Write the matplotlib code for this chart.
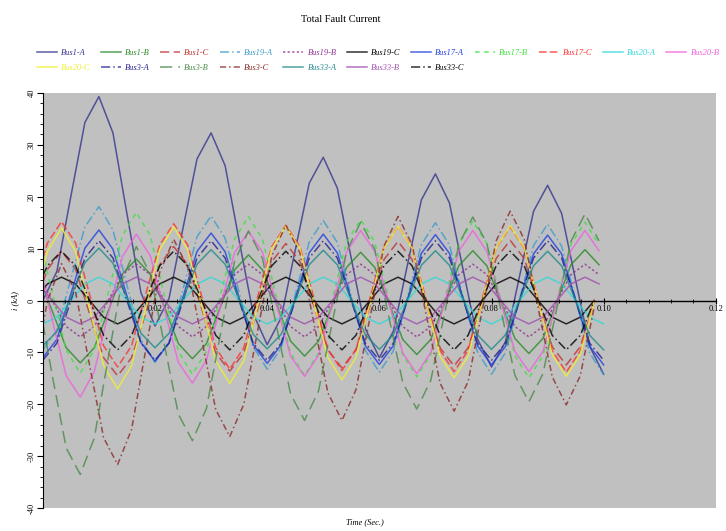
import matplotlib
matplotlib.use("Agg")
import matplotlib.pyplot as plt
from matplotlib.ticker import MultipleLocator, FixedLocator

plt.rcParams['font.family'] = ['Liberation Serif', 'DejaVu Serif']
plt.rcParams['axes.unicode_minus'] = False

# sample times in ms (each phase group read at its own peaks / troughs)
t_a = [0, 2.5, 5, 7.5, 10, 12.5, 15, 17.5, 20, 22.5, 25, 27.5, 30, 32.5, 35, 37.5, 40,
       42.5, 45, 47.5, 50, 52.5, 55, 57.5, 60, 62.5, 65, 67.5, 70, 72.5, 75, 77.5, 80,
       82.5, 85, 87.5, 90, 92.5, 95, 97.5, 100]
t_b = [0, 1.67, 4.17, 6.67, 9.17, 11.67, 14.17, 16.67, 19.17, 21.67, 24.17, 26.67, 29.17,
       31.67, 34.17, 36.67, 39.17, 41.67, 44.17, 46.67, 49.17, 51.67, 54.17, 56.67, 59.17,
       61.67, 64.17, 66.67, 69.17, 71.67, 74.17, 76.67, 79.17, 81.67, 84.17, 86.67, 89.17,
       91.67, 94.17, 96.67, 99.17]
t_c = [0, 0.83, 3.33, 5.83, 8.33, 10.83, 13.33, 15.83, 18.33, 20.83, 23.33, 25.83, 28.33,
       30.83, 33.33, 35.83, 38.33, 40.83, 43.33, 45.83, 48.33, 50.83, 53.33, 55.83, 58.33,
       60.83, 63.33, 65.83, 68.33, 70.83, 73.33, 75.83, 78.33, 80.83, 83.33, 85.83, 88.33,
       90.83, 93.33, 95.83, 98.33]

# phase A currents (kA)
bus1_a = [0.0, 5.6, 20.1, 34.3, 39.3, 32.3, 16.7, 1.5, -4.9, 0.4, 14.0, 27.3, 32.3, 26.0,
          11.6, -2.5, -8.5, -3.3, 9.7, 22.6, 27.6, 21.7, 8.1, -5.4, -11.0, -5.9, 6.8, 19.4,
          24.4, 18.8, 5.6, -7.4, -12.8, -7.9, 4.7, 17.2, 22.2, 16.8, 3.9, -8.8, -14.2]
bus19_a = [-9.5, -5.7, 4.2, 14.2, 18.1, 13.6, 3.0, -7.5, -11.9, -7.9, 2.2, 12.3, 16.3, 12.0,
           1.6, -8.9, -13.2, -9.1, 1.1, 11.3, 15.4, 11.2, 0.8, -9.6, -13.8, -9.7, 0.6, 10.8,
           15.0, 10.7, 0.4, -9.9, -14.2, -10.0, 0.3, 10.6, 14.7, 10.5, 0.2, -10.1, -14.3]
bus17_a = [-11.0, -7.5, 1.3, 10.1, 13.6, 9.9, 0.9, -8.1, -11.7, -8.2, 0.7, 9.5, 13.0, 9.4,
           0.5, -8.5, -12.1, -8.5, 0.3, 9.2, 12.8, 9.2, 0.3, -8.7, -12.3, -8.7, 0.2, 9.1,
           12.7, 9.1, 0.2, -8.7, -12.4, -8.8, 0.1, 9.0, 12.6, 9.0, 0.1, -8.8, -12.4]
bus20_a = [-4.5, -3.2, 0.0, 3.2, 4.5, 3.2, 0.0, -3.2, -4.5, -3.2, 0.0, 3.2, 4.5, 3.2, 0.0,
           -3.2, -4.5, -3.2, 0.0, 3.2, 4.5, 3.2, 0.0, -3.2, -4.5, -3.2, 0.0, 3.2, 4.5, 3.2,
           0.0, -3.2, -4.5, -3.2, 0.0, 3.2, 4.5, 3.2, 0.0, -3.2, -4.5]
bus3_a = [-11.5, -8.2, 0.0, 8.2, 11.5, 8.2, 0.0, -8.2, -11.5, -8.2, 0.0, 8.2, 11.5, 8.2, 0.0,
          -8.2, -11.5, -8.2, 0.0, 8.2, 11.5, 8.2, 0.0, -8.2, -11.5, -8.2, 0.0, 8.2, 11.5, 8.2,
          0.0, -8.2, -11.5, -8.2, 0.0, 8.2, 11.5, 8.2, 0.0, -8.2, -11.5]
bus33_a = [-8.7, -6.0, 0.7, 7.3, 10.1, 7.2, 0.5, -6.3, -9.1, -6.3, 0.4, 7.0, 9.8, 7.0, 0.3,
           -6.5, -9.3, -6.5, 0.2, 6.9, 9.7, 6.9, 0.1, -6.6, -9.4, -6.6, 0.1, 6.8, 9.6, 6.8,
           0.1, -6.6, -9.4, -6.6, 0.0, 6.7, 9.5, 6.7, 0.0, -6.7, -9.5]

# phase B currents (kA)
bus1_b = [2.5, -2.0, -9.1, -12.0, -9.1, -2.0, 5.1, 8.0, 5.1, -1.2, -8.3, -11.2, -8.3, -1.2,
          5.9, 8.8, 5.9, -0.7, -7.8, -10.7, -7.8, -0.7, 6.4, 9.3, 6.4, -0.4, -7.5, -10.4,
          -7.5, -0.4, 6.7, 9.6, 6.7, -0.2, -7.3, -10.2, -7.3, -0.2, 6.9, 9.8, 6.9]
bus19_b = [3.5, 0.0, -5.0, -7.0, -5.0, 0.0, 5.0, 7.0, 5.0, 0.0, -5.0, -7.0, -5.0, 0.0, 5.0,
           7.0, 5.0, 0.0, -5.0, -7.0, -5.0, 0.0, 5.0, 7.0, 5.0, 0.0, -5.0, -7.0, -5.0, 0.0,
           5.0, 7.0, 5.0, 0.0, -5.0, -7.0, -5.0, 0.0, 5.0, 7.0, 5.0]
bus17_b = [9.3, 1.5, -9.5, -14.0, -9.5, 1.5, 12.5, 17.0, 12.5, 1.0, -9.8, -14.2, -9.8, 1.0,
           11.8, 16.2, 11.8, 0.6, -10.1, -14.4, -10.1, 0.6, 11.3, 15.6, 11.3, 0.3, -10.4,
           -14.7, -10.4, 0.3, 11.0, 15.3, 11.0, 0.1, -10.6, -14.9, -10.6, 0.1, 10.8, 15.1, 10.8]
bus20_b = [4.0, -3.7, -14.5, -18.6, -13.7, -2.5, 8.4, 12.8, 8.6, -1.7, -11.9, -15.9, -11.5,
           -1.1, 9.2, 13.3, 9.3, -0.8, -10.7, -14.6, -10.5, -0.5, 9.4, 13.5, 9.5, -0.3, -10.1,
           -14.1, -10.0, -0.2, 9.5, 13.5, 9.5, -0.2, -9.8, -13.7, -9.8, -0.1, 9.6, 13.5, 9.6]
bus3_b = [-4.3, -14.4, -28.4, -33.5, -26.5, -11.0, 4.1, 10.4, 5.1, -8.5, -21.9, -27.0, -20.8,
          -6.5, 7.5, 13.4, 8.1, -5.0, -18.0, -23.1, -17.4, -3.9, 9.5, 15.1, 9.9, -3.0, -15.8,
          -20.9, -15.4, -2.3, 10.8, 16.1, 11.0, -1.8, -14.4, -19.5, -14.1, -1.4, 11.4, 16.7, 11.5]
bus33_b = [2.2, 0.0, -3.2, -4.5, -3.2, 0.0, 3.2, 4.5, 3.2, 0.0, -3.2, -4.5, -3.2, 0.0, 3.2,
           4.5, 3.2, 0.0, -3.2, -4.5, -3.2, 0.0, 3.2, 4.5, 3.2, 0.0, -3.2, -4.5, -3.2, 0.0,
           3.2, 4.5, 3.2, 0.0, -3.2, -4.5, -3.2, 0.0, 3.2, 4.5, 3.2]

# phase C currents (kA)
bus1_c = [3.5, 6.0, 9.5, 6.0, -2.5, -11.0, -14.5, -11.0, -2.5, 6.9, 10.4, 6.9, -1.6, -10.1,
          -13.6, -10.1, -1.6, 7.5, 11.0, 7.5, -1.0, -9.5, -13.0, -9.5, -1.0, 7.9, 11.4, 7.9,
          -0.6, -9.1, -12.6, -9.1, -0.6, 8.1, 11.6, 8.1, -0.4, -8.9, -12.4, -8.9, -0.4]
bus19_c = [2.2, 3.2, 4.5, 3.2, 0.0, -3.2, -4.5, -3.2, 0.0, 3.2, 4.5, 3.2, 0.0, -3.2, -4.5,
           -3.2, 0.0, 3.2, 4.5, 3.2, 0.0, -3.2, -4.5, -3.2, 0.0, 3.2, 4.5, 3.2, 0.0, -3.2,
           -4.5, -3.2, 0.0, 3.2, 4.5, 3.2, 0.0, -3.2, -4.5, -3.2, 0.0]
bus17_c = [8.2, 11.1, 15.2, 11.1, 1.2, -8.7, -12.8, -8.7, 1.2, 10.7, 14.8, 10.7, 0.8, -9.1,
           -13.2, -9.1, 0.8, 10.4, 14.5, 10.4, 0.5, -9.4, -13.5, -9.4, 0.5, 10.2, 14.3, 10.2,
           0.3, -9.6, -13.7, -9.6, 0.3, 10.1, 14.2, 10.1, 0.2, -9.7, -13.8, -9.7, 0.2]
bus20_c = [6.2, 9.5, 14.0, 9.5, -1.5, -12.5, -17.0, -12.5, -1.5, 9.8, 14.2, 9.8, -0.9, -11.6,
           -16.0, -11.6, -0.9, 10.0, 14.3, 10.0, -0.5, -11.0, -15.3, -11.0, -0.5, 10.1, 14.3,
           10.1, -0.3, -10.7, -14.9, -10.7, -0.3, 10.2, 14.4, 10.2, -0.1, -10.4, -14.6, -10.4, -0.1]
bus3_c = [-4.8, 0.0, 7.1, 1.7, -12.4, -26.4, -31.6, -24.8, -9.6, 5.4, 11.8, 6.4, -7.4, -21.0,
          -26.2, -20.0, -5.7, 8.6, 14.5, 9.2, -4.3, -17.8, -23.1, -17.2, -3.3, 10.5, 16.2,
          10.8, -2.6, -15.9, -21.3, -15.6, -2.0, 11.5, 17.2, 11.8, -1.5, -14.7, -20.1, -14.5, -1.2]
bus33_c = [4.8, 6.7, 9.5, 6.7, 0.0, -6.7, -9.5, -6.7, 0.0, 6.7, 9.5, 6.7, 0.0, -6.7, -9.5,
           -6.7, 0.0, 6.7, 9.5, 6.7, 0.0, -6.7, -9.5, -6.7, 0.0, 6.7, 9.5, 6.7, 0.0, -6.7,
           -9.5, -6.7, 0.0, 6.7, 9.5, 6.7, 0.0, -6.7, -9.5, -6.7, 0.0]

# label, times, values, colour, dash style  (legend order, row by row)
series = [
    ("Bus1-A", t_a, bus1_a, '#34348f', '-'),
    ("Bus1-B", t_b, bus1_b, '#2a8a2a', '-'),
    ("Bus1-C", t_c, bus1_c, '#c03030', (0, (6, 3))),
    ("Bus19-A", t_a, bus19_a, '#3a9ccc', (0, (6, 2, 1, 2))),
    ("Bus19-B", t_b, bus19_b, '#903090', (0, (1.5, 1.5))),
    ("Bus19-C", t_c, bus19_c, '#000000', '-'),
    ("Bus17-A", t_a, bus17_a, '#2040e0', '-'),
    ("Bus17-B", t_b, bus17_b, '#40e040', (0, (3, 3))),
    ("Bus17-C", t_c, bus17_c, '#ff3030', (0, (5, 2))),
    ("Bus20-A", t_a, bus20_a, '#30d8d8', '-'),
    ("Bus20-B", t_b, bus20_b, '#f060e0', '-'),
    ("Bus20-C", t_c, bus20_c, '#f0f030', '-'),
    ("Bus3-A", t_a, bus3_a, '#202090', (0, (6, 2, 1, 2))),
    ("Bus3-B", t_b, bus3_b, '#4a8a4a', (0, (8, 4))),
    ("Bus3-C", t_c, bus3_c, '#8b2a2a', (0, (4, 2, 1, 2))),
    ("Bus33-A", t_a, bus33_a, '#208a8a', '-'),
    ("Bus33-B", t_b, bus33_b, '#a050b0', '-'),
    ("Bus33-C", t_c, bus33_c, '#000000', (0, (6, 2, 1, 2))),
]

fig = plt.figure(figsize=(7.26, 5.31), dpi=100)
ax = fig.add_axes([0.059, 0.043, 0.927, 0.782])
ax.set_facecolor('#c0c0c0')

lines = []
for label, t, v, color, ls in series:
    ln, = ax.plot([x / 1000 for x in t], v, color=color, linestyle=ls, lw=1.1,
                  alpha=0.8, label=label)
    lines.append(ln)

ax.set_xlim(0, 0.12)
ax.set_ylim(-40, 40)
ax.spines['top'].set_visible(False)
ax.spines['right'].set_visible(False)
ax.spines['bottom'].set_position(('data', 0))
ax.spines['bottom'].set_linewidth(1.0)
ax.spines['left'].set_linewidth(0.8)

ax.xaxis.set_major_locator(FixedLocator([0.02, 0.04, 0.06, 0.08, 0.10, 0.12]))
ax.set_xticklabels(['0.02', '0.04', '0.06', '0.08', '0.10', '0.12'])
ax.xaxis.set_minor_locator(MultipleLocator(0.004))
ax.yaxis.set_major_locator(MultipleLocator(10))
ax.yaxis.set_minor_locator(MultipleLocator(2))
ax.tick_params(axis='x', which='major', direction='inout', length=5, labelsize=6, pad=1)
ax.tick_params(axis='x', which='minor', direction='inout', length=2.5)
ax.tick_params(axis='y', which='major', direction='out', length=4, labelsize=6,
               labelrotation=90, pad=1)
ax.tick_params(axis='y', which='minor', direction='out', length=2)
for lbl in ax.get_yticklabels():
    lbl.set_va('center')

ax.set_ylabel('i (kA)', fontsize=6, fontstyle='italic', labelpad=6)
fig.text(0.503, 0.012, 'Time (Sec.)', ha='center', fontsize=6, fontstyle='italic')
fig.text(0.47, 0.958, 'Total Fault Current', ha='center', fontsize=7.5)

# legend is filled column by column: interleave the two rows
row1 = lines[:11]
row2 = lines[11:]
handles = []
for i in range(11):
    handles.append(row1[i])
    if i < len(row2):
        handles.append(row2[i])
leg = fig.legend(handles=handles, labels=[h.get_label() for h in handles],
                 ncol=11, loc='upper left', bbox_to_anchor=(0.04, 0.922),
                 frameon=False, handlelength=2.4, columnspacing=1.25,
                 handletextpad=0.5, labelspacing=0.85,
                 prop={'style': 'italic', 'size': 6})
for txt, h in zip(leg.get_texts(), handles):
    txt.set_color(h.get_color())
    txt.set_alpha(1.0)

fig.savefig('out.png', dpi=100)
